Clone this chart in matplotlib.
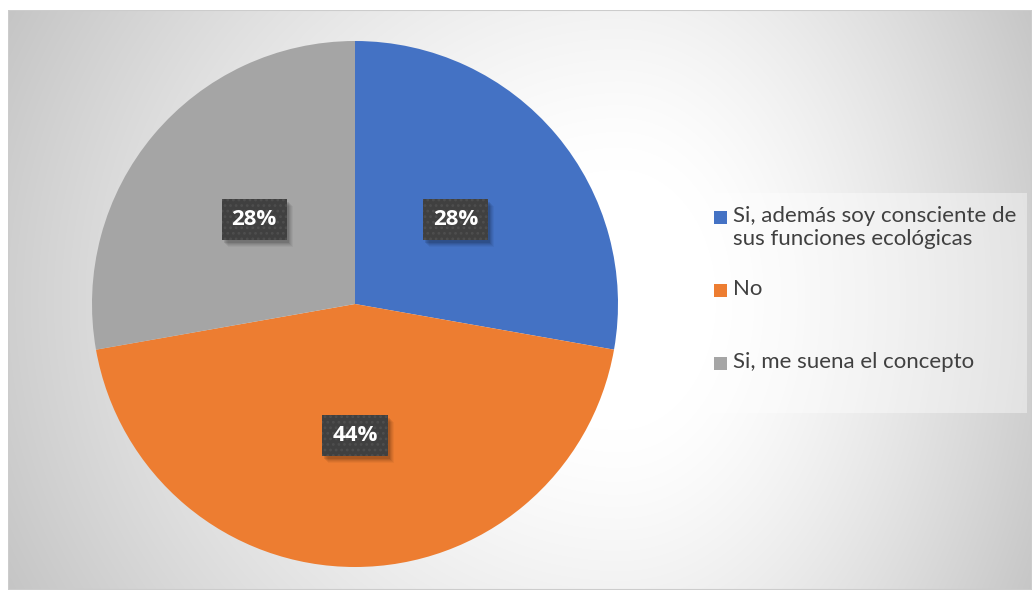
import numpy as np
import matplotlib.pyplot as plt
from matplotlib.patches import Rectangle

# survey answers (counts)
labels = ["Si, además soy consciente de\nsus funciones ecológicas",
          "No",
          "Si, me suena el concepto"]
counts = [5, 8, 5]
colors = ["#4472C4", "#ED7D31", "#A5A5A5"]

plt.rcParams["hatch.color"] = "#4e4e4e"
plt.rcParams["hatch.linewidth"] = 1.2

W, H = 1032, 590
fig = plt.figure(figsize=(W / 100, H / 100), dpi=100)
fig.patch.set_facecolor("white")

# chart area with a grey-to-white path fill
x0, y0 = 8, 10
bg = fig.add_axes([x0 / W, 0, 1 - x0 / W, (H - y0) / H])
bg.set_axis_off()
bg.set_zorder(0)
xx, yy = np.meshgrid(np.arange(x0, W) + 0.5, np.arange(y0, H) + 0.5)
sx = np.where(xx < 620, 700.0, 480.0)
d = np.sqrt(((xx - 620) / sx) ** 2 + ((yy - 300) / 650.0) ** 2)
t = np.clip((d - 0.2) / 0.8, 0, 1) ** 1.3
shade = 1.0 - 0.235 * t
bg.imshow(np.dstack([shade] * 3), extent=(0, 1, 0, 1), aspect="auto",
          interpolation="bilinear")
bg.set_xlim(0, 1)
bg.set_ylim(0, 1)
bg.add_patch(Rectangle((0, 0), 1, 1, transform=bg.transAxes, fill=False,
                       edgecolor="#cccccc", linewidth=1.5))

# pie: centre (355, 304), radius 263 px
cx, cy, r = 355, 304, 263
ax = fig.add_axes([(cx - r) / W, (H - cy - r) / H, 2 * r / W, 2 * r / H])
ax.set_axis_off()
ax.set_zorder(2)
wedges, texts, autotexts = ax.pie(
    counts, colors=colors, startangle=90, counterclock=False,
    autopct=lambda p: f"{p:.0f}%", pctdistance=0.5, radius=1,
    wedgeprops=dict(linewidth=0))
ax.set_xlim(-1, 1)
ax.set_ylim(-1, 1)

for t_ in autotexts:
    t_.set(color="white", fontsize=16, fontweight="bold", zorder=5,
           family=["Open Sans", "DejaVu Sans"])
    t_.set_bbox(dict(boxstyle="square,pad=0.45", facecolor="#404040",
                     edgecolor="#4e4e4e", linewidth=0, hatch="..."))

# soft drop shadow under each label box (drawn in data coords of the pie)
fig.canvas.draw()
to_data = ax.transData.inverted()
for t_ in autotexts:
    bb = t_.get_bbox_patch().get_window_extent()
    for k, a in [(7, 0.04), (6, 0.05), (5, 0.06), (4, 0.08), (3, 0.10)]:
        (dx0, dy0), (dx1, dy1) = to_data.transform(
            [(bb.x0 + k - 1, bb.y0 - k), (bb.x1 + k - 1, bb.y1 - k)])
        ax.add_patch(Rectangle((dx0, dy0), dx1 - dx0, dy1 - dy0,
                               facecolor="black", alpha=a, linewidth=0,
                               zorder=4))

# legend panel
fig.patches.append(Rectangle((700 / W, 1 - 413 / H), 327 / W, 220 / H,
                             transform=fig.transFigure, facecolor="white",
                             alpha=0.4, edgecolor="none"))
rows = [217, 290, 363]
for lab, col, y in zip(labels, colors, rows):
    fig.patches.append(Rectangle((714 / W, 1 - (y + 6.5) / H), 13 / W, 13 / H,
                                 transform=fig.transFigure, facecolor=col,
                                 edgecolor="none"))
    fig.text(733 / W, 1 - (y - 11) / H, lab, ha="left", va="top",
             fontsize=16, color="#404040", linespacing=1.2,
             family=["Lato", "DejaVu Sans"])

fig.savefig("out.png", dpi=100)
